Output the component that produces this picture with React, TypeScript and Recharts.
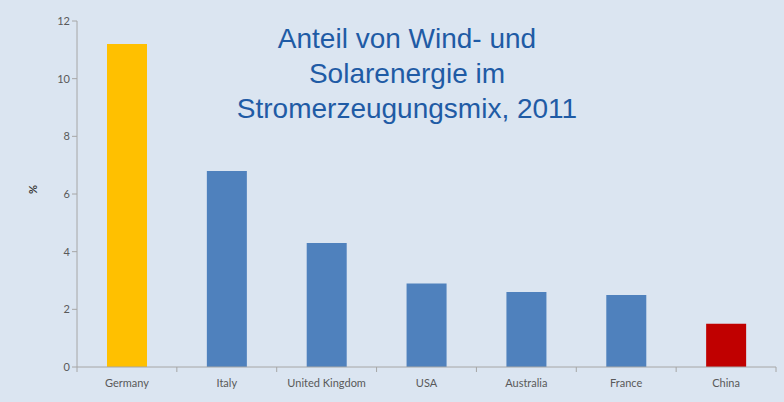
import { BarChart, Bar, XAxis, YAxis, Cell } from "recharts"

const countries = ["Germany", "Italy", "United Kingdom", "USA", "Australia", "France", "China"]
const shares = [11.2, 6.8, 4.3, 2.9, 2.6, 2.5, 1.5]
const barColors = ["#ffc000", "#4f81bd", "#4f81bd", "#4f81bd", "#4f81bd", "#4f81bd", "#c00000"]
const yTicks = [0, 2, 4, 6, 8, 10, 12]
const titleLines = ["Anteil von Wind- und", "Solarenergie im", "Stromerzeugungsmix, 2011"]

const data = countries.map((country, i) => ({ country, share: shares[i] }))

const W = 784
const H = 402
const LEFT = 77
const RIGHT = 8
const BAND = (W - LEFT - RIGHT) / countries.length

const XTick = (props: any) => {
  const { x, y, payload, index } = props
  return (
    <g>
      <line x1={x - BAND / 2} y1={y - 8} x2={x - BAND / 2} y2={y - 3} stroke="#a6a6a6" />
      {index === countries.length - 1 && (
        <line x1={x + BAND / 2} y1={y - 8} x2={x + BAND / 2} y2={y - 3} stroke="#a6a6a6" />
      )}
      <text x={x} y={y + 12} textAnchor="middle" fill="#595959" fontSize={11} fontFamily="Lato, 'Open Sans', sans-serif">
        {payload.value}
      </text>
    </g>
  )
}

export default function App() {
  return (
    <div style={{ position: "relative", width: W, height: H, background: "#dbe5f1" }}>
      <style>{`body{margin:0}`}</style>
      <BarChart
        width={W}
        height={H}
        data={data}
        margin={{ top: 21, right: RIGHT, left: 0, bottom: 5 }}
        barCategoryGap={0}
      >
        <XAxis
          dataKey="country"
          height={30}
          axisLine={{ stroke: "#a6a6a6" }}
          tickLine={false}
          tick={<XTick />}
          interval={0}
        />
        <YAxis
          width={LEFT}
          domain={[0, 12]}
          ticks={yTicks}
          axisLine={{ stroke: "#a6a6a6" }}
          tickLine={{ stroke: "#a6a6a6" }}
          tickSize={5}
          tick={{ fill: "#595959", fontSize: 11, fontFamily: "Lato, 'Open Sans', sans-serif" }}
          label={{
            value: "%",
            angle: -90,
            position: "insideLeft",
            offset: 33,
            style: { fill: "#404040", fontSize: 11, fontWeight: "bold", fontFamily: "Lato, sans-serif" },
          }}
        />
        <Bar dataKey="share" barSize={40} isAnimationActive={false}>
          {data.map((d, i) => (
            <Cell key={d.country} fill={barColors[i]} />
          ))}
        </Bar>
      </BarChart>
      <div
        style={{
          position: "absolute",
          left: 197,
          top: 21,
          width: 420,
          textAlign: "center",
          color: "#1f5ba5",
          fontFamily: "'Liberation Sans', Arial, sans-serif",
          fontSize: 28,
          lineHeight: "35px",
        }}
      >
        {titleLines.map((line) => (
          <div key={line}>{line}</div>
        ))}
      </div>
    </div>
  )
}
